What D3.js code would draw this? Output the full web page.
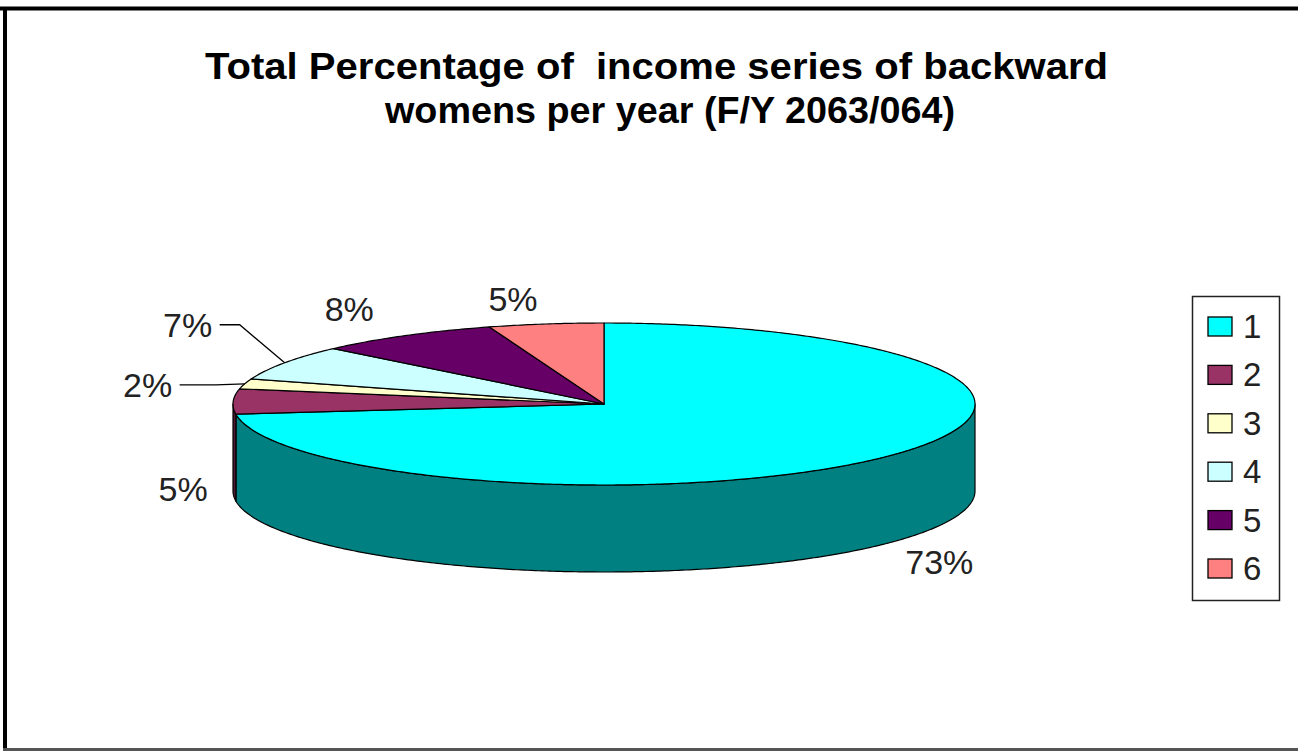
<!DOCTYPE html>
<html>
<head>
<meta charset="utf-8">
<script src="https://cdn.jsdelivr.net/npm/d3@7"></script>
<style>
  html, body { margin: 0; padding: 0; background: #fff; }
  svg { display: block; }
</style>
</head>
<body>
<svg id="chart" width="1298" height="752"></svg>
<script>
// ---- data ----
const categories = ["1", "2", "3", "4", "5", "6"];
const values = [73, 5, 2, 7, 8, 5];
const labels = ["73%", "5%", "2%", "7%", "8%", "5%"];
const colors = ["#00FFFF", "#993366", "#FFFFCC", "#CCFFFF", "#660066", "#FF8080"];
const titleLines = ["Total Percentage of  income series of backward", "womens per year (F/Y 2063/064)"];

// ---- layout ----
const W = 1298, H = 752;
const cx = 604, cy = 404, rx = 371, ry = 81, depth = 87;
// label placement relative to slice mid-point on rim (layout only)
const labelNudge = [[57, 104], [-50, 88], [-97, 1], [-97, -38], [-56, -27], [-33, -25]];
const leaderFor = [false, false, true, true, false, false];

const svg = d3.select("#chart");

// frame
svg.append("line").attr("x1", 0).attr("x2", W).attr("y1", 8.5).attr("y2", 8.5)
  .attr("stroke", "#000").attr("stroke-width", 4);
svg.append("line").attr("x1", 5).attr("x2", 5).attr("y1", 7).attr("y2", H - 2)
  .attr("stroke", "#000").attr("stroke-width", 4);
svg.append("line").attr("x1", 3).attr("x2", W).attr("y1", 749.5).attr("y2", 749.5)
  .attr("stroke", "#555").attr("stroke-width", 3);

// title
const titleG = svg.append("g")
  .attr("font-family", "'Liberation Sans', Arial, sans-serif")
  .attr("font-weight", "bold").attr("font-size", 36).attr("fill", "#000");
titleG.append("text").attr("x", 205).attr("y", 79).attr("textLength", 903)
  .attr("lengthAdjust", "spacingAndGlyphs").style("white-space", "pre").text(titleLines[0]);
titleG.append("text").attr("x", 385).attr("y", 123).attr("textLength", 570)
  .attr("lengthAdjust", "spacingAndGlyphs").text(titleLines[1]);

// scales mapping unit circle to tilted ellipse
const xs = d3.scaleLinear().domain([-1, 1]).range([cx - rx, cx + rx]);
const ys = d3.scaleLinear().domain([-1, 1]).range([cy - ry, cy + ry]);
const pt = (a, off = 0) => [xs(Math.sin(a)), ys(-Math.cos(a)) + off];

const pie = d3.pie().sort(null).value(d => d);
const arcs = pie(values);

function arcPoints(a0, a1, off) {
  const n = Math.max(2, Math.ceil(Math.abs(a1 - a0) / 0.01));
  return d3.range(n + 1).map(i => pt(a0 + (a1 - a0) * i / n, off));
}
const line = d3.line();

function sideColor(c) {
  const r = d3.rgb(c);
  return d3.rgb(r.r * 0.5, r.g * 0.5, r.b * 0.5).formatHex();
}

const g = svg.append("g");

// outer walls (front half: angle in [PI/2, 3PI/2])
arcs.forEach((d, i) => {
  const a0 = Math.max(d.startAngle, Math.PI / 2);
  const a1 = Math.min(d.endAngle, 3 * Math.PI / 2);
  if (a1 <= a0) return;
  const top = arcPoints(a0, a1, 0);
  const bot = arcPoints(a1, a0, depth);
  g.append("path")
    .attr("d", line(top.concat(bot)) + "Z")
    .attr("fill", sideColor(colors[i]))
    .attr("stroke", "#000").attr("stroke-width", 1.2).attr("stroke-linejoin", "round");
});

// top faces
arcs.forEach((d, i) => {
  const pts = [[cx, cy]].concat(arcPoints(d.startAngle, d.endAngle, 0));
  g.append("path")
    .attr("d", line(pts) + "Z")
    .attr("fill", colors[i])
    .attr("stroke", "#000").attr("stroke-width", 1.2).attr("stroke-linejoin", "round");
});

// labels
const lg = svg.append("g")
  .attr("font-family", "'Liberation Sans', Arial, sans-serif")
  .attr("font-size", 34).attr("fill", "#222");
arcs.forEach((d, i) => {
  const mid = (d.startAngle + d.endAngle) / 2;
  const p = pt(mid, 0);
  const lx = p[0] + labelNudge[i][0], ly = p[1] + labelNudge[i][1];
  const t = lg.append("text").attr("x", lx).attr("y", ly + 12)
    .attr("text-anchor", "middle").text(labels[i]);
  if (leaderFor[i]) {
    const right = lx + 28;
    const elbow = i === 2 ? right + 40 : right + 24;
    svg.append("path")
      .attr("d", line([[right + 4, ly], [elbow, ly], p]))
      .attr("fill", "none").attr("stroke", "#000").attr("stroke-width", 1.3);
  }
});

// legend
const legend = svg.append("g");
legend.append("rect").attr("x", 1192.5).attr("y", 296.5).attr("width", 87).attr("height", 304)
  .attr("fill", "#fff").attr("stroke", "#222").attr("stroke-width", 1.5);
const ly0 = d3.scalePoint().domain(categories).range([326, 568]);
categories.forEach((c, i) => {
  legend.append("rect").attr("x", 1208).attr("y", ly0(c) - 9).attr("width", 24).attr("height", 19)
    .attr("fill", colors[i]).attr("stroke", "#000").attr("stroke-width", 1.3);
  legend.append("text").attr("x", 1243).attr("y", ly0(c) + 12)
    .attr("font-family", "'Liberation Sans', Arial, sans-serif")
    .attr("font-size", 33).attr("fill", "#222").text(c);
});
</script>
</body>
</html>
